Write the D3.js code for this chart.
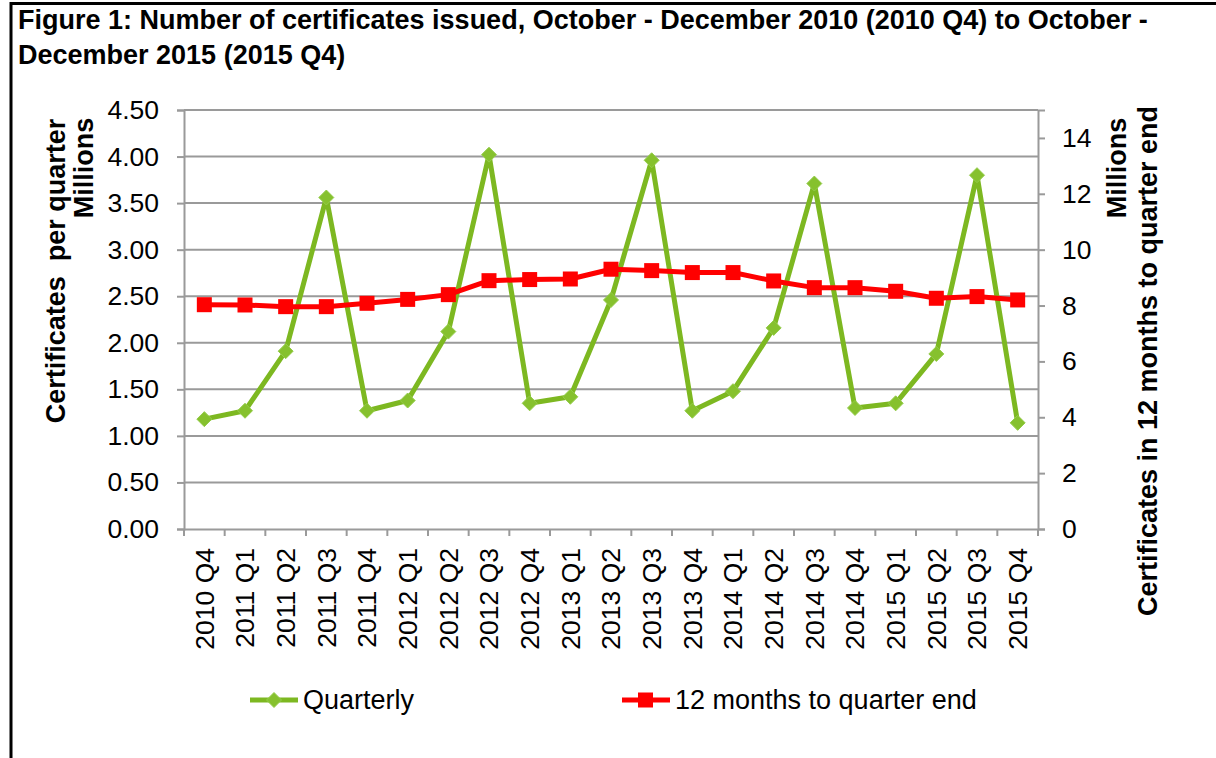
<!DOCTYPE html>
<html><head><meta charset="utf-8">
<script src="https://cdn.jsdelivr.net/npm/d3@7"></script>
<style>
html,body{margin:0;padding:0;background:#fff;}
text{font-family:"Liberation Sans",Arial,sans-serif;}
</style></head>
<body>
<svg id="chart" width="1216" height="758"></svg>
<script>
const categories = ["2010 Q4","2011 Q1","2011 Q2","2011 Q3","2011 Q4","2012 Q1","2012 Q2","2012 Q3","2012 Q4","2013 Q1","2013 Q2","2013 Q3","2013 Q4","2014 Q1","2014 Q2","2014 Q3","2014 Q4","2015 Q1","2015 Q2","2015 Q3","2015 Q4"];
const quarterly = [1.18,1.27,1.91,3.56,1.27,1.38,2.12,4.02,1.35,1.42,2.46,3.96,1.27,1.48,2.16,3.71,1.30,1.35,1.88,3.80,1.14];
const twelveMonths = [8.03,8.02,7.96,7.96,8.08,8.22,8.39,8.89,8.93,8.95,9.30,9.25,9.18,9.18,8.88,8.64,8.64,8.51,8.26,8.32,8.20];
const leftTicks = [0,0.5,1,1.5,2,2.5,3,3.5,4,4.5];
const rightTicks = [0,2,4,6,8,10,12,14];
const seriesNames = ["Quarterly","12 months to quarter end"];

const svg = d3.select("#chart");
const L = 184, R = 1038, T = 110, B = 529;
const GREEN = "#7db821", GREEN_M = "#86c12e", RED = "#ff0000", GRID = "#9a9a9a";

// frame
svg.append("line").attr("x1",11).attr("x2",11).attr("y1",2).attr("y2",758).attr("stroke","#000").attr("stroke-width",3);
svg.append("line").attr("x1",10).attr("x2",1216).attr("y1",3.5).attr("y2",3.5).attr("stroke","#000").attr("stroke-width",3);

// title
const title = svg.append("text").attr("font-weight","bold").attr("font-size",27).attr("fill","#000");
title.append("tspan").attr("x",18).attr("y",29).text("Figure 1: Number of certificates issued, October - December 2010 (2010 Q4) to October -");
title.append("tspan").attr("x",18).attr("y",64).text("December 2015 (2015 Q4)");

const x = d3.scaleBand().domain(categories).range([L,R]).padding(0);
const yL = d3.scaleLinear().domain([0,4.5]).range([B,T]);
const yR = d3.scaleLinear().domain([0,15]).range([B,T]);

// gridlines
svg.append("g").selectAll("line").data(leftTicks.filter(d=>d>0)).join("line")
  .attr("x1",L).attr("x2",R).attr("y1",d=>yL(d)).attr("y2",d=>yL(d))
  .attr("stroke",GRID).attr("stroke-width",2);

// left axis
const axL = svg.append("g").attr("transform",`translate(${L},0)`)
  .call(d3.axisLeft(yL).tickValues(leftTicks).tickFormat(d3.format(".2f")).tickSize(7).tickPadding(18));
axL.select(".domain").attr("stroke",GRID).attr("stroke-width",2);
axL.selectAll(".tick line").attr("stroke",GRID).attr("stroke-width",2);
axL.selectAll(".tick text").attr("font-size",26.5).attr("fill","#000").attr("font-family","Liberation Sans, Arial, sans-serif");

// right axis
const axR = svg.append("g").attr("transform",`translate(${R},0)`)
  .call(d3.axisRight(yR).tickValues(rightTicks).tickFormat(d3.format("d")).tickSize(7).tickPadding(17));
axR.select(".domain").attr("stroke",GRID).attr("stroke-width",2);
axR.selectAll(".tick line").attr("stroke",GRID).attr("stroke-width",2);
axR.selectAll(".tick text").attr("font-size",26.5).attr("fill","#000").attr("font-family","Liberation Sans, Arial, sans-serif");

// bottom axis
const axB = svg.append("g").attr("transform",`translate(0,${B})`)
  .call(d3.axisBottom(x).tickSize(0).tickFormat(d=>d));
axB.select(".domain").attr("stroke",GRID).attr("stroke-width",2);
axB.selectAll(".tick text").attr("font-size",26.5).attr("fill","#000")
  .attr("font-family","Liberation Sans, Arial, sans-serif")
  .attr("text-anchor","end").attr("transform","rotate(-90)")
  .attr("x",-19).attr("y",0).attr("dy","0.35em");
// boundary ticks between categories
const bounds = categories.map(c=>x(c)).concat([R]);
svg.append("g").selectAll("line").data(bounds).join("line")
  .attr("x1",d=>d).attr("x2",d=>d).attr("y1",B).attr("y2",B+7)
  .attr("stroke",GRID).attr("stroke-width",2);

// axis titles
function vtext(cx, cy, str, size){
  svg.append("text").attr("transform",`translate(${cx},${cy}) rotate(-90)`)
    .attr("text-anchor","middle").attr("font-weight","bold").attr("font-size",size)
    .attr("fill","#000").style("white-space","pre").text(str);
}
vtext(65, 271, "Certificates  per quarter", 27);
vtext(93, 168, "Millions", 27);
vtext(1126, 168, "Millions", 27);
vtext(1157, 361, "Certificates in 12 months to quarter end", 27);

const cx = d => x(d) + x.bandwidth()/2;

// quarterly line
svg.append("path").datum(quarterly.map((v,i)=>[cx(categories[i]),yL(v)]))
  .attr("d",d3.line()).attr("fill","none").attr("stroke",GREEN).attr("stroke-width",5).attr("stroke-linejoin","round");
// 12 month line
svg.append("path").datum(twelveMonths.map((v,i)=>[cx(categories[i]),yR(v)]))
  .attr("d",d3.line()).attr("fill","none").attr("stroke",RED).attr("stroke-width",5).attr("stroke-linejoin","round");

const diamond = s => `M0,${-s}L${s},0L0,${s}L${-s},0Z`;
svg.append("g").selectAll("path").data(quarterly).join("path")
  .attr("transform",(d,i)=>`translate(${cx(categories[i])},${yL(d)})`)
  .attr("d",diamond(7.5)).attr("fill",GREEN_M).attr("stroke","#94cc4a").attr("stroke-width",1);
svg.append("g").selectAll("rect").data(twelveMonths).join("rect")
  .attr("x",(d,i)=>cx(categories[i])-7.5).attr("y",d=>yR(d)-7.5)
  .attr("width",15).attr("height",15).attr("fill",RED);

// legend
const lg = svg.append("g");
lg.append("line").attr("x1",250).attr("x2",298).attr("y1",700).attr("y2",700).attr("stroke",GREEN).attr("stroke-width",5);
lg.append("path").attr("transform","translate(274,700)").attr("d",diamond(7.5)).attr("fill",GREEN_M).attr("stroke","#94cc4a");
lg.append("text").attr("x",303).attr("y",709).attr("font-size",27).attr("fill","#000").text(seriesNames[0]);
lg.append("line").attr("x1",622).attr("x2",670).attr("y1",700).attr("y2",700).attr("stroke",RED).attr("stroke-width",5);
lg.append("rect").attr("x",638).attr("y",692.5).attr("width",15).attr("height",15).attr("fill",RED);
lg.append("text").attr("x",675).attr("y",709).attr("font-size",27).attr("fill","#000").text(seriesNames[1]);
</script>
</body></html>
